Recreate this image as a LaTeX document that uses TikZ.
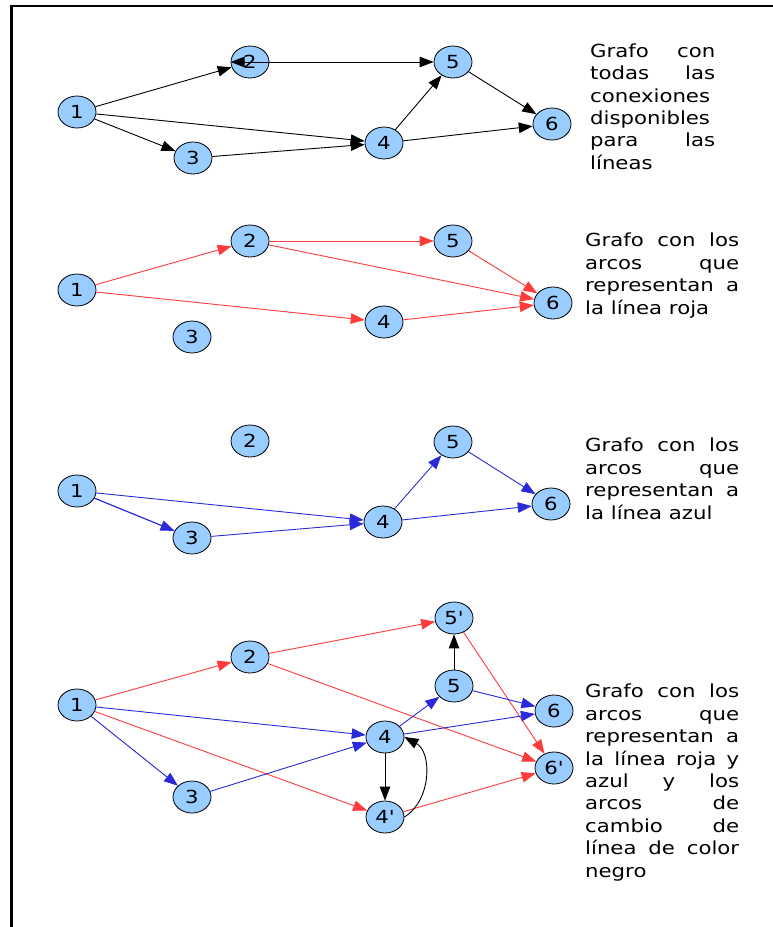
\documentclass[tikz,border=0pt]{standalone}
\usepackage{fontspec}
\newfontfamily\dv{DejaVu Sans}[FakeStretch=1.18]
\usetikzlibrary{shapes.geometric,arrows.meta}
\definecolor{nodeblue}{HTML}{99CCFF}
\definecolor{arcred}{HTML}{FF3B3B}
\definecolor{arcblue}{HTML}{2A2AD8}
\tikzset{
  vtx/.style={ellipse, draw=black, line width=0.8pt, fill=nodeblue,
    minimum width=38pt, minimum height=32pt, inner sep=0pt,
    font=\dv\fontsize{18}{20}\selectfont},
  tip/.style={-{Triangle[length=14pt,width=10.5pt]}},
  blkarc/.style={draw=black, line width=0.9pt, tip},
  redarc/.style={draw=arcred, line width=0.9pt, tip},
  bluearc/.style={draw=arcblue, line width=0.9pt, tip},
  txt/.style={anchor=north west, inner sep=0pt, align=left,
    font=\dv\fontsize{18}{22.4}\selectfont},
}
\newcommand{\jl}[2]{\makebox[#1][s]{#2}}
\begin{document}
\begin{tikzpicture}[x=1pt,y=-1pt]
\useasboundingbox (0,0) rectangle (773,927);
% frame
\draw[line width=2.4pt] (11.3,927) -- (11.3,6) -- (773,6);

% ---------- panel 1 ----------
\node[vtx] (a1) at (77,112) {1};
\node[vtx] (a2) at (250,62) {2};
\node[vtx] (a3) at (193,158) {3};
\node[vtx] (a4) at (384,143) {4};
\node[vtx] (a5) at (453,62) {5};
\node[vtx] (a6) at (552,124) {6};
\draw[blkarc] (a1) -- (a2);
\draw[blkarc] (a1) -- (a3);
\draw[blkarc] (a1) -- (a4);
\draw[blkarc] (a3) -- (a4);
\draw[blkarc] (a4) -- (a5);
\draw[blkarc] (a4) -- (a6);
\draw[blkarc] (a5) -- (a6);
\draw[blkarc, {Triangle[length=14pt,width=10.5pt]}-{Triangle[length=14pt,width=10.5pt]}] (a2.west) -- (a5);
\node[txt] (t1) at (590,43.5) {\jl{125pt}{Grafo con}\\\jl{125pt}{todas las}\\conexiones\\disponibles\\\jl{125pt}{para las}\\líneas};

% ---------- panel 2 ----------
\node[vtx] (b1) at (77,290) {1};
\node[vtx] (b2) at (250,241) {2};
\node[vtx] (b3) at (192,337) {3};
\node[vtx] (b4) at (384,322) {4};
\node[vtx] (b5) at (453,241) {5};
\node[vtx] (b6) at (553,303) {6};
\draw[redarc] (b1) -- (b2);
\draw[redarc] (b2) -- (b5);
\draw[redarc] (b2) -- (b6);
\draw[redarc] (b5) -- (b6);
\draw[redarc] (b1) -- (b4);
\draw[redarc] (b4) -- (b6);
\node[txt] (t2) at (585,233) {\jl{154pt}{Grafo con los}\\\jl{154pt}{arcos que}\\\jl{154pt}{representan a}\\la línea roja};

% ---------- panel 3 ----------
\node[vtx] (c1) at (77,491) {1};
\node[vtx] (c2) at (250,441) {2};
\node[vtx] (c3) at (192,538) {3};
\node[vtx] (c4) at (383,522) {4};
\node[vtx] (c5) at (453,442) {5};
\node[vtx] (c6) at (551,504) {6};
\draw[bluearc, line width=1.2pt] (c1) -- (c3);
\draw[bluearc] (c1) -- (c4);
\draw[bluearc] (c3) -- (c4);
\draw[bluearc] (c4) -- (c5);
\draw[bluearc] (c5) -- (c6);
\draw[bluearc] (c4) -- (c6);
\node[txt] (t3) at (585,438) {\jl{154pt}{Grafo con los}\\\jl{154pt}{arcos que}\\\jl{154pt}{representan a}\\la línea azul};

% ---------- panel 4 ----------
\node[vtx] (d1) at (77,705) {1};
\node[vtx] (d2) at (250,657) {2};
\node[vtx] (d3) at (192,797) {3};
\node[vtx] (d4) at (385,737) {4};
\node[vtx] (d4p) at (385,817) {4'};
\node[vtx] (d5) at (454,686) {5};
\node[vtx] (d5p) at (454,618) {5'};
\node[vtx] (d6) at (554,711) {6};
\node[vtx] (d6p) at (554,768) {6'};
\draw[redarc] (d1) -- (d2);
\draw[redarc] (d2) -- (d5p);
\draw[redarc] (d2) -- (d6p);
\draw[redarc] (d5p) -- (d6p);
\draw[redarc] (d1) -- (d4p);
\draw[redarc] (d4p) -- (d6p);
\draw[bluearc] (d1) -- (d3);
\draw[bluearc] (d1) -- (d4);
\draw[bluearc] (d3) -- (d4);
\draw[bluearc] (d4) -- (d5);
\draw[bluearc] (d5) -- (d6);
\draw[bluearc] (d4) -- (d6);
\draw[blkarc] (d5) -- (d5p);
\draw[blkarc] (d4) -- (d4p);
\draw[blkarc] (d4p.east) .. controls (432,800) and (432,752) .. (d4.east);
\node[txt] (t4) at (585,684) {\jl{154pt}{Grafo con los}\\\jl{154pt}{arcos que}\\\jl{154pt}{representan a}\\\jl{154pt}{la línea roja y}\\\jl{154pt}{azul y los}\\\jl{154pt}{arcos de}\\\jl{154pt}{cambio de}\\\jl{154pt}{línea de color}\\negro};
\end{tikzpicture}
\end{document}
